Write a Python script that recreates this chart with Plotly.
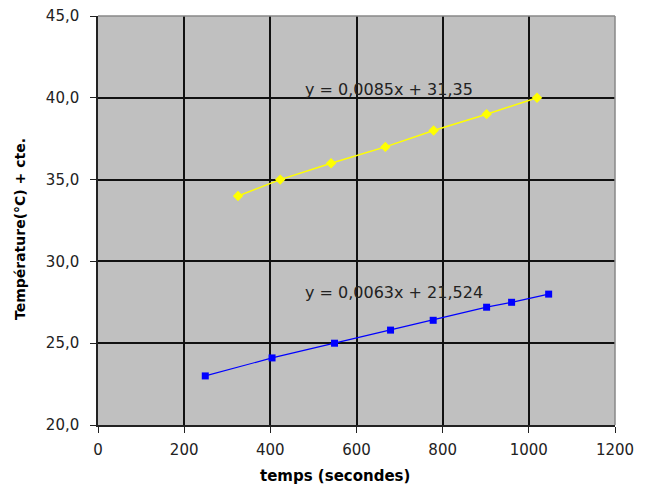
import plotly.graph_objects as go

# Data
yellow_t = [325, 423, 541, 667, 779, 902, 1019]
yellow_T = [34.0, 35.0, 36.0, 37.0, 38.0, 39.0, 40.0]
blue_t = [249, 404, 549, 679, 778, 902, 960, 1046]
blue_T = [23.0, 24.1, 25.0, 25.8, 26.4, 27.2, 27.5, 28.0]

eq_yellow = "y = 0,0085x + 31,35"
eq_blue = "y = 0,0063x + 21,524"
x_title = "temps (secondes)"
y_title = "Température(°C) + cte."

x_ticks = [0, 200, 400, 600, 800, 1000, 1200]
y_ticks = [20, 25, 30, 35, 40, 45]

fig = go.Figure()
fig.add_trace(go.Scatter(x=yellow_t, y=yellow_T, mode="lines+markers",
                         line=dict(color="#FFFF00", width=1.5),
                         marker=dict(symbol="diamond", size=8, color="#FFFF00"),
                         showlegend=False))
fig.add_trace(go.Scatter(x=blue_t, y=blue_T, mode="lines+markers",
                         line=dict(color="#0000FF", width=1.2),
                         marker=dict(symbol="square", size=7, color="#0000FF"),
                         showlegend=False))

fig.add_annotation(x=675, y=40.48, text=eq_yellow, showarrow=False,
                   font=dict(size=16, color="#222222", family="DejaVu Sans"))
fig.add_annotation(x=686, y=28.09, text=eq_blue, showarrow=False,
                   font=dict(size=16, color="#222222", family="DejaVu Sans"))

# axis titles (placed slightly off-centre like the reference)
fig.add_annotation(xref="paper", yref="paper", x=0.458, y=-0.124, yanchor="middle",
                   text="<b>" + x_title + "</b>", showarrow=False,
                   font=dict(size=15, color="black", family="DejaVu Sans"))
fig.add_annotation(xref="paper", yref="paper", x=-0.151, y=0.479, xanchor="center",
                   text="<b>" + y_title + "</b>", showarrow=False, textangle=-90,
                   font=dict(size=14, color="black", family="DejaVu Sans"))

# grey frame on top and right of the plot area
fig.add_shape(type="line", xref="paper", yref="paper", x0=0, x1=1, y0=1, y1=1,
              line=dict(color="#888888", width=1.5), layer="above")
fig.add_shape(type="line", xref="paper", yref="paper", x0=1, x1=1, y0=0, y1=1,
              line=dict(color="#888888", width=1.5), layer="above")

# page body has an 8px margin, so the figure is drawn 8px smaller and offset
fig.update_layout(
    width=639, height=479,
    margin=dict(l=90, r=32, t=8, b=62, autoexpand=False),
    paper_bgcolor="white",
    plot_bgcolor="#C0C0C0",
    separators=", ",
    font=dict(family="DejaVu Sans", size=15, color="#222222"),
    xaxis=dict(range=[0, 1200], tickvals=x_ticks, tickformat="d", automargin=False,
               showgrid=True, gridcolor="#111111", gridwidth=1.5,
               showline=True, linecolor="#222222", linewidth=1.5,
               ticks="outside", ticklen=6, tickcolor="#222222", tickwidth=1.2,
               ticklabelstandoff=4, ticklabeloverflow="allow",
               zeroline=False),
    yaxis=dict(range=[20, 45], tickvals=y_ticks, tickformat=".1f", automargin=False,
               showgrid=True, gridcolor="#111111", gridwidth=1.5,
               showline=True, linecolor="#222222", linewidth=1.5,
               ticks="outside", ticklen=6, tickcolor="#222222", tickwidth=1.2,
               ticklabelstandoff=8, ticklabeloverflow="allow",
               zeroline=False),
)

fig.write_html("out.html")
